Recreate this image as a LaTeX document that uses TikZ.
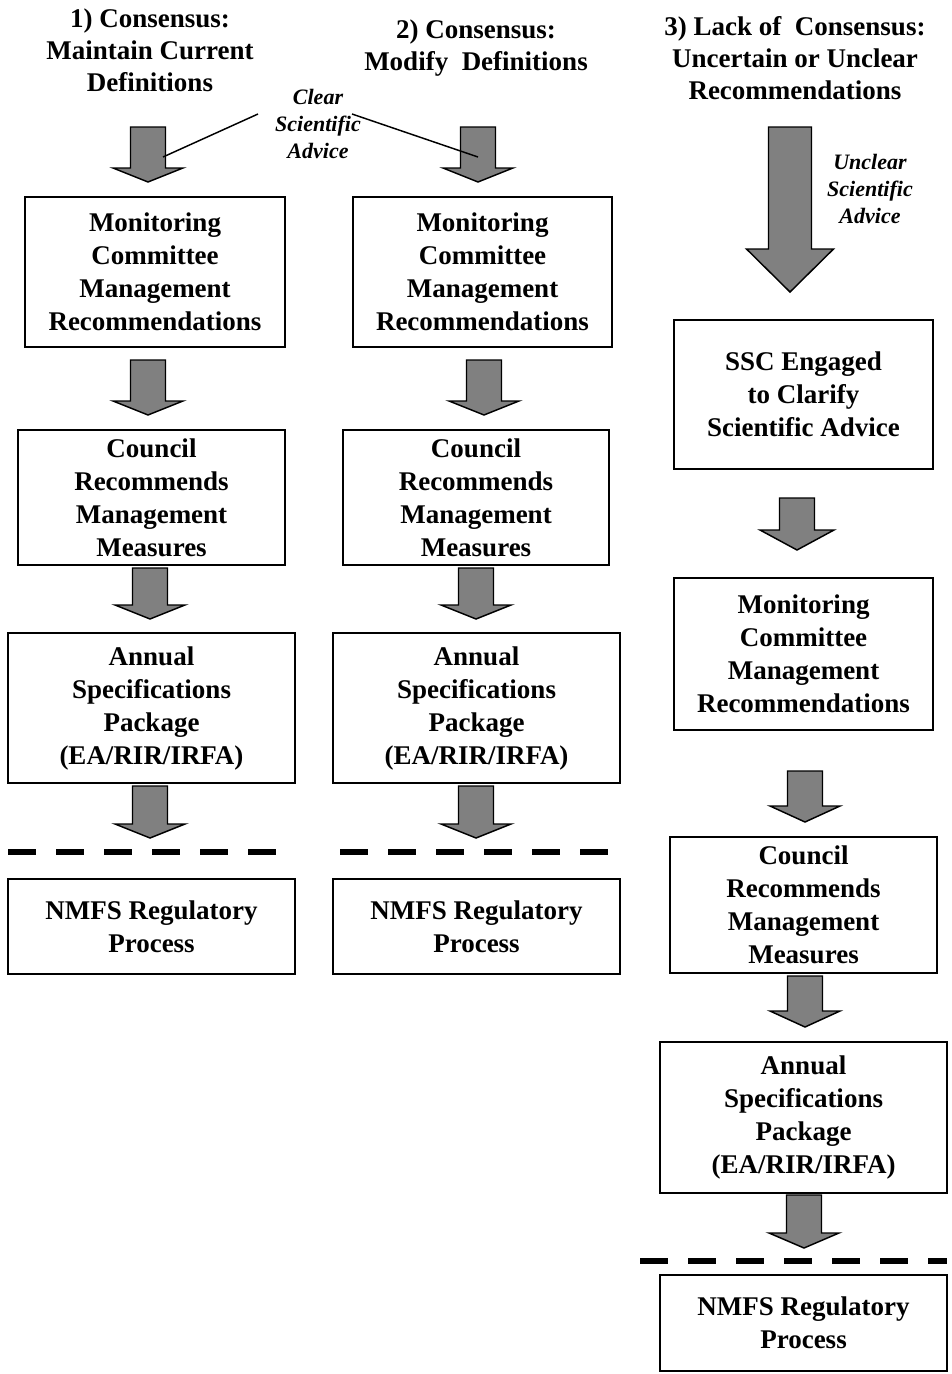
\documentclass[tikz,border=0pt]{standalone}
\usepackage{fontspec}
\setmainfont{Liberation Serif}
\usetikzlibrary{calc}
\newcommand\btext{\fontsize{20.25pt}{24.75pt}\selectfont\bfseries}
\newcommand\htext{\fontsize{20.25pt}{24pt}\selectfont\bfseries}
\newcommand\itext{\fontsize{16.5pt}{20.25pt}\selectfont\bfseries\itshape}
% block arrow: #1 x (px), #2 top point, #3 tip point, #4 shaft half (px), #5 head half (px), #6 head length (px)
\newcommand\barrow[6]{%
  \filldraw[arr] let \p1=#2, \p2=#3 in
    ({(#1-#4)*0.75pt},\y1) -- ({(#1+#4)*0.75pt},\y1) -- ({(#1+#4)*0.75pt},{\y2+#6*0.75pt})
    -- ({(#1+#5)*0.75pt},{\y2+#6*0.75pt}) -- ({#1*0.75pt},\y2) -- ({(#1-#5)*0.75pt},{\y2+#6*0.75pt})
    -- ({(#1-#4)*0.75pt},{\y2+#6*0.75pt}) -- cycle;}
\begin{document}
\begin{tikzpicture}[x=0.75pt,y=-0.75pt,
  box/.style 2 args={draw, line width=1.5pt, inner sep=0pt, align=center, font=\btext,
     minimum width=#1*0.75pt, minimum height=#2*0.75pt},
  hd/.style={align=center, font=\htext, inner sep=0pt},
  it/.style={align=center, font=\itext, inner sep=0pt},
  arr/.style={fill=gray, draw=black, line width=1.1pt, line join=miter},
  sep/.style={line width=4.5pt, dash pattern=on 21pt off 15pt},
  lead/.style={line width=1.1pt}]
\useasboundingbox (0,0) rectangle (951,1374);

% headings
\node[hd] (h1) at (150,50) {1) Consensus:\\Maintain Current\\Definitions};
\node[hd] (h2) at (476,48) {2) Consensus:\\Modify~ Definitions};
\node[hd] (h3) at (795,58) {3) Lack of~ Consensus:\\Uncertain or Unclear\\Recommendations};
\node[it] (clr) at (318,124) {Clear\\Scientific\\Advice};
\node[it] (unc) at (870,189) {Unclear\\Scientific\\Advice};

% column 1
\node[box={260}{150}] (A1) at (155,272) {Monitoring\\Committee\\Management\\Recommendations};
\node[box={267}{135}] (B1) at (151.5,497.5) {Council\\Recommends\\Management\\Measures};
\node[box={287}{150}] (C1) at (151.5,708) {Annual\\Specifications\\Package\\(EA/RIR/IRFA)};
\node[box={287}{95}] (D1) at (151.5,926.5) {NMFS Regulatory\\Process};
\coordinate (s1a) at (8,852); \coordinate (s1b) at (276,852);

% column 2
\node[box={259}{150}] (A2) at (482.5,272) {Monitoring\\Committee\\Management\\Recommendations};
\node[box={266}{135}] (B2) at (476,497.5) {Council\\Recommends\\Management\\Measures};
\node[box={287}{150}] (C2) at (476.5,708) {Annual\\Specifications\\Package\\(EA/RIR/IRFA)};
\node[box={287}{95}] (D2) at (476.5,926.5) {NMFS Regulatory\\Process};
\coordinate (s2a) at (340,852); \coordinate (s2b) at (608,852);

% column 3
\node[box={259}{149}] (S3) at (803.5,394.5) {SSC Engaged\\to Clarify\\Scientific Advice};
\node[box={259}{152}] (A3) at (803.5,654) {Monitoring\\Committee\\Management\\Recommendations};
\node[box={267}{136}] (B3) at (803.5,905) {Council\\Recommends\\Management\\Measures};
\node[box={287}{151}] (C3) at (803.5,1117.5) {Annual\\Specifications\\Package\\(EA/RIR/IRFA)};
\node[box={287}{96}] (D3) at (803.5,1323) {NMFS Regulatory\\Process};
\coordinate (s3a) at (640,1261); \coordinate (s3b) at (947,1261);

% dashed separators
\draw[sep] (s1a) -- (s1b);
\draw[sep] (s2a) -- (s2b);
\draw[sep] (s3a) -- (s3b);

% block arrows column 1
\barrow{148}{($(A1.north)+(0,-69)$)}{($(A1.north)+(0,-14)$)}{17.5}{35}{14}
\barrow{148}{($(A1.south)+(0,12)$)}{($(B1.north)+(0,-14)$)}{17.5}{35}{14}
\barrow{150}{($(B1.south)+(0,2)$)}{($(C1.north)+(0,-13)$)}{17.5}{35}{14}
\barrow{150}{($(C1.south)+(0,2)$)}{($(s1a)+(0,-14)$)}{17.5}{35}{14}
% block arrows column 2
\barrow{478}{($(A2.north)+(0,-69)$)}{($(A2.north)+(0,-14)$)}{17.5}{35}{14}
\barrow{484}{($(A2.south)+(0,12)$)}{($(B2.north)+(0,-14)$)}{17.5}{35}{14}
\barrow{476}{($(B2.south)+(0,2)$)}{($(C2.north)+(0,-13)$)}{17.5}{35}{14}
\barrow{476}{($(C2.south)+(0,2)$)}{($(s2a)+(0,-14)$)}{17.5}{35}{14}
% block arrows column 3
\barrow{790}{($(S3.north)+(0,-192)$)}{($(S3.north)+(0,-27)$)}{21.5}{43.5}{43}
\barrow{797}{($(S3.south)+(0,28)$)}{($(A3.north)+(0,-27)$)}{17.5}{37}{20}
\barrow{805}{($(A3.south)+(0,40)$)}{($(B3.north)+(0,-14)$)}{17.5}{35}{16}
\barrow{805}{($(B3.south)+(0,2)$)}{($(C3.north)+(0,-14)$)}{17.5}{35}{16}
\barrow{804}{($(C3.south)+(0,1)$)}{($(s3a)+(0,-13)$)}{17.5}{35}{15}

% leader lines from "Clear Scientific Advice"
\coordinate (l1a) at (258,114); \coordinate (l1b) at (163,157);
\coordinate (l2a) at (352,114); \coordinate (l2b) at (478,157);
\draw[lead] (l1a) -- (l1b);
\draw[lead] (l2a) -- (l2b);
\end{tikzpicture}
\end{document}
